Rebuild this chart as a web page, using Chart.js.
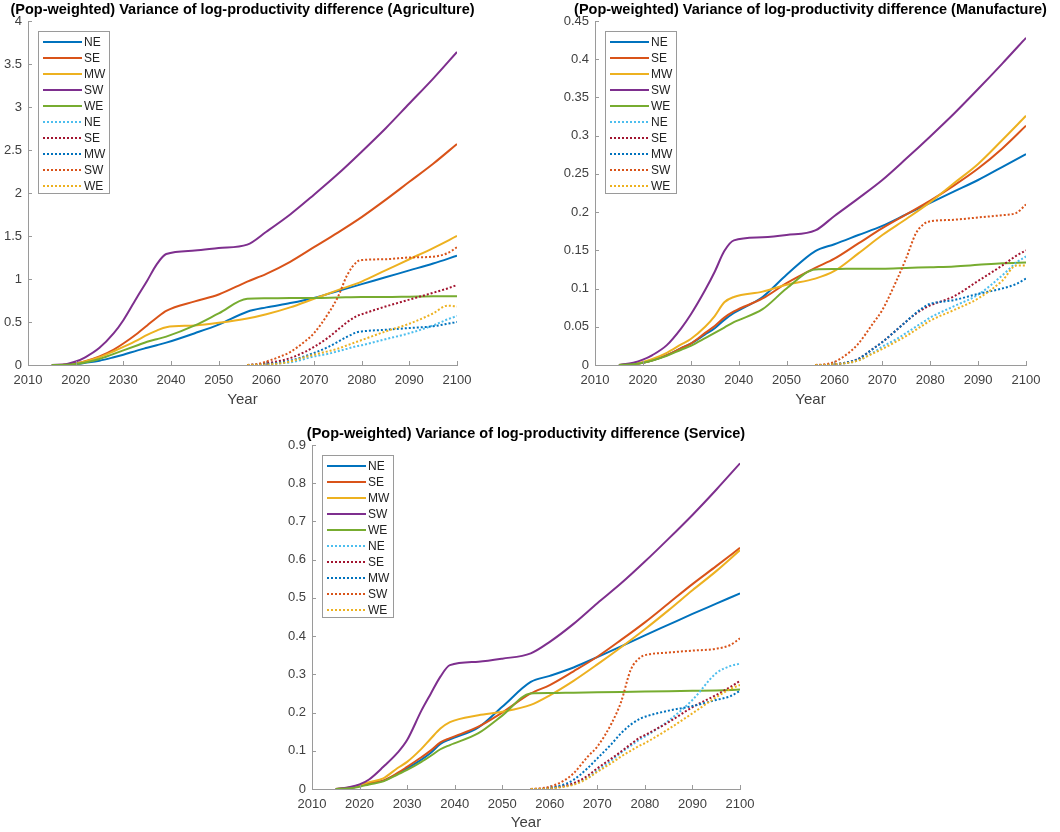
<!DOCTYPE html>
<html>
<head>
<meta charset="utf-8">
<title>Variance of log-productivity difference</title>
<script src="https://cdn.jsdelivr.net/npm/chart.js@4.4.0/dist/chart.umd.min.js"></script>
<style>
  html, body { margin: 0; padding: 0; background: #fff; }
  body { width: 1060px; height: 832px; position: relative; overflow: hidden; }
  .panel { position: absolute; }
</style>
</head>
<body>
<div class="panel" style="left:0;top:0;width:530px;height:420px"><canvas id="agri"></canvas></div>
<div class="panel" style="left:530px;top:0;width:530px;height:420px"><canvas id="manu"></canvas></div>
<div class="panel" style="left:260px;top:420px;width:530px;height:412px"><canvas id="serv"></canvas></div>
<script>
// regions, in legend order
const regions = ['NE', 'SE', 'MW', 'SW', 'WE'];

// x values: solid lines start 2015, dotted lines start 2056
const solidYears = [2015, 2018, 2020, 2022, 2025, 2028, 2030, 2033, 2035, 2037, 2039, 2045, 2050, 2056, 2060, 2065, 2070, 2075, 2080, 2085, 2090, 2095, 2100];
const dottedYears = [2056, 2058, 2060, 2063, 2065, 2068, 2070, 2073, 2075, 2077, 2079, 2080, 2085, 2090, 2095, 2098, 2100];

// tick labels
const xTicks = [2010, 2020, 2030, 2040, 2050, 2060, 2070, 2080, 2090, 2100];
const agriYTicks = [0, 0.5, 1, 1.5, 2, 2.5, 3, 3.5, 4];
const manuYTicks = [0, 0.05, 0.1, 0.15, 0.2, 0.25, 0.3, 0.35, 0.4, 0.45];
const servYTicks = [0, 0.1, 0.2, 0.3, 0.4, 0.5, 0.6, 0.7, 0.8, 0.9];

// Agriculture
const agriNE = [0, 0.003, 0.01, 0.025, 0.05, 0.09, 0.12, 0.17, 0.2, 0.23, 0.26, 0.37, 0.47, 0.62, 0.67, 0.72, 0.78, 0.86, 0.94, 1.02, 1.10, 1.18, 1.27];
const agriSE = [0, 0.005, 0.02, 0.045, 0.10, 0.18, 0.25, 0.37, 0.46, 0.55, 0.63, 0.74, 0.82, 0.97, 1.06, 1.20, 1.37, 1.54, 1.72, 1.92, 2.13, 2.34, 2.57];
const agriMW = [0, 0.004, 0.015, 0.04, 0.09, 0.16, 0.21, 0.29, 0.35, 0.40, 0.44, 0.46, 0.49, 0.54, 0.59, 0.67, 0.77, 0.87, 0.97, 1.10, 1.23, 1.36, 1.50];
const agriSW = [0, 0.01, 0.04, 0.09, 0.20, 0.37, 0.52, 0.80, 0.98, 1.17, 1.29, 1.33, 1.36, 1.40, 1.55, 1.75, 1.98, 2.22, 2.48, 2.75, 3.04, 3.33, 3.64];
const agriWE = [0, 0.003, 0.012, 0.03, 0.07, 0.13, 0.17, 0.23, 0.27, 0.30, 0.33, 0.46, 0.60, 0.77, 0.775, 0.78, 0.78, 0.785, 0.79, 0.79, 0.795, 0.80, 0.80];
const agriNEd = [0, 0.003, 0.01, 0.02, 0.03, 0.07, 0.10, 0.13, 0.16, 0.19, 0.22, 0.23, 0.30, 0.37, 0.46, 0.53, 0.57];
const agriSEd = [0, 0.005, 0.02, 0.05, 0.08, 0.15, 0.21, 0.32, 0.41, 0.50, 0.57, 0.59, 0.68, 0.76, 0.84, 0.89, 0.93];
const agriMWd = [0, 0.003, 0.01, 0.03, 0.05, 0.10, 0.14, 0.21, 0.27, 0.33, 0.38, 0.39, 0.41, 0.43, 0.45, 0.48, 0.50];
const agriSWd = [0, 0.01, 0.04, 0.10, 0.15, 0.27, 0.37, 0.60, 0.79, 1.05, 1.20, 1.22, 1.23, 1.25, 1.26, 1.30, 1.37];
const agriWEd = [0, 0.002, 0.005, 0.02, 0.04, 0.09, 0.12, 0.16, 0.19, 0.23, 0.27, 0.29, 0.39, 0.48, 0.60, 0.69, 0.68];

// Manufacture
const manuNE = [0, 0.001, 0.003, 0.006, 0.013, 0.022, 0.028, 0.040, 0.048, 0.059, 0.068, 0.089, 0.118, 0.149, 0.158, 0.170, 0.182, 0.197, 0.212, 0.227, 0.242, 0.259, 0.276];
const manuSE = [0, 0.001, 0.003, 0.006, 0.013, 0.022, 0.028, 0.042, 0.051, 0.062, 0.070, 0.087, 0.107, 0.127, 0.139, 0.159, 0.179, 0.197, 0.215, 0.235, 0.257, 0.283, 0.313];
const manuMW = [0, 0.001, 0.004, 0.008, 0.016, 0.027, 0.034, 0.050, 0.064, 0.082, 0.089, 0.096, 0.105, 0.113, 0.123, 0.146, 0.170, 0.191, 0.213, 0.238, 0.263, 0.294, 0.326];
const manuSW = [0, 0.003, 0.007, 0.013, 0.026, 0.048, 0.066, 0.098, 0.122, 0.149, 0.163, 0.167, 0.170, 0.176, 0.195, 0.218, 0.242, 0.270, 0.299, 0.329, 0.361, 0.394, 0.428];
const manuWE = [0, 0.001, 0.003, 0.006, 0.012, 0.020, 0.025, 0.035, 0.042, 0.049, 0.056, 0.073, 0.100, 0.125, 0.1255, 0.126, 0.126, 0.127, 0.128, 0.129, 0.131, 0.133, 0.134];
const manuNEd = [0, 0, 0.001, 0.003, 0.006, 0.016, 0.024, 0.034, 0.042, 0.050, 0.058, 0.062, 0.077, 0.092, 0.117, 0.134, 0.142];
const manuSEd = [0, 0, 0.001, 0.004, 0.008, 0.021, 0.030, 0.046, 0.057, 0.067, 0.075, 0.078, 0.090, 0.110, 0.130, 0.143, 0.150];
const manuMWd = [0, 0, 0.001, 0.004, 0.008, 0.021, 0.030, 0.046, 0.057, 0.068, 0.077, 0.080, 0.085, 0.093, 0.100, 0.106, 0.113];
const manuSWd = [0, 0.001, 0.004, 0.016, 0.028, 0.054, 0.072, 0.111, 0.140, 0.172, 0.186, 0.188, 0.190, 0.193, 0.196, 0.199, 0.210];
const manuWEd = [0, 0, 0.001, 0.003, 0.006, 0.015, 0.021, 0.031, 0.038, 0.046, 0.054, 0.058, 0.072, 0.087, 0.110, 0.130, 0.130];

// Service
const servNE = [0, 0.003, 0.008, 0.015, 0.022, 0.040, 0.054, 0.077, 0.095, 0.118, 0.130, 0.161, 0.215, 0.280, 0.296, 0.318, 0.345, 0.373, 0.402, 0.430, 0.458, 0.485, 0.512];
const servSE = [0, 0.003, 0.008, 0.015, 0.022, 0.042, 0.058, 0.083, 0.101, 0.122, 0.133, 0.163, 0.200, 0.250, 0.272, 0.308, 0.346, 0.390, 0.436, 0.486, 0.536, 0.583, 0.631];
const servMW = [0, 0.004, 0.010, 0.018, 0.028, 0.055, 0.071, 0.105, 0.132, 0.158, 0.175, 0.193, 0.202, 0.220, 0.245, 0.283, 0.326, 0.371, 0.418, 0.468, 0.520, 0.570, 0.625];
const servSW = [0, 0.005, 0.012, 0.025, 0.058, 0.095, 0.128, 0.205, 0.250, 0.294, 0.324, 0.333, 0.341, 0.355, 0.385, 0.432, 0.486, 0.538, 0.595, 0.655, 0.717, 0.783, 0.852];
const servWE = [0, 0.002, 0.006, 0.012, 0.020, 0.038, 0.050, 0.071, 0.087, 0.104, 0.115, 0.146, 0.192, 0.250, 0.251, 0.252, 0.253, 0.254, 0.255, 0.256, 0.257, 0.258, 0.260];
const servNEd = [0, 0, 0.002, 0.007, 0.013, 0.030, 0.048, 0.075, 0.095, 0.113, 0.130, 0.137, 0.179, 0.233, 0.303, 0.322, 0.328];
const servSEd = [0, 0, 0.002, 0.008, 0.015, 0.035, 0.054, 0.080, 0.098, 0.117, 0.135, 0.141, 0.175, 0.214, 0.246, 0.267, 0.283];
const servMWd = [0, 0, 0.003, 0.012, 0.024, 0.055, 0.080, 0.118, 0.146, 0.168, 0.184, 0.189, 0.205, 0.217, 0.233, 0.243, 0.257];
const servSWd = [0, 0.002, 0.006, 0.022, 0.041, 0.085, 0.111, 0.172, 0.228, 0.311, 0.344, 0.350, 0.357, 0.362, 0.367, 0.377, 0.394];
const servWEd = [0, 0, 0.001, 0.006, 0.011, 0.028, 0.045, 0.068, 0.085, 0.100, 0.114, 0.120, 0.157, 0.198, 0.240, 0.262, 0.272];

// MATLAB default colours
const solidColors = ['#0072BD', '#D95319', '#EDB120', '#7E2F8E', '#77AC30'];
const dottedColors = ['#4DBEEE', '#A2142F', '#0072BD', '#D95319', '#EDB120'];
const axisColor = '#9a9a9a';
const textColor = '#404040';
const fontFamily = '"Liberation Sans", Arial, Helvetica, sans-serif';

Chart.defaults.font.family = fontFamily;

function toPoints(xs, ys) {
    return xs.map((x, i) => ({ x: x, y: ys[i] }));
}

function buildDatasets(solid, dotted) {
    const sets = [];
    solid.forEach((vals, i) => sets.push({
        label: regions[i],
        data: toPoints(solidYears, vals),
        borderColor: solidColors[i],
        borderWidth: 2,
        borderDash: []
    }));
    dotted.forEach((vals, i) => sets.push({
        label: regions[i],
        data: toPoints(dottedYears, vals),
        borderColor: dottedColors[i],
        borderWidth: 2,
        borderDash: [2, 2]
    }));
    // later lines drawn on top, like MATLAB
    sets.forEach((s, i) => {
        s.order = sets.length - 1 - i;
        s.pointRadius = 0;
        s.fill = false;
        s.cubicInterpolationMode = 'monotone';
    });
    return sets;
}

// inward tick marks, title and boxed legend
const decorPlugin = {
    id: 'decor',
    afterDraw(chart, args, opts) {
        const { ctx, chartArea: a, scales: { x, y } } = chart;
        ctx.save();

        ctx.strokeStyle = axisColor;
        ctx.lineWidth = 1;
        ctx.beginPath();
        x.ticks.forEach(t => {
            const px = Math.round(x.getPixelForValue(t.value)) + 0.5;
            ctx.moveTo(px, a.bottom);
            ctx.lineTo(px, a.bottom - 4);
        });
        y.ticks.forEach(t => {
            const py = Math.round(y.getPixelForValue(t.value)) + 0.5;
            ctx.moveTo(a.left, py);
            ctx.lineTo(a.left + 4, py);
        });
        ctx.stroke();

        ctx.fillStyle = '#000';
        ctx.font = 'bold 14.5px ' + fontFamily;
        ctx.textAlign = 'center';
        ctx.textBaseline = 'middle';
        ctx.fillText(opts.title, (a.left + a.right) / 2, a.top - 11);

        // legend box
        const bx = a.left + 10, by = a.top + 10, bw = 71, bh = 162;
        ctx.fillStyle = '#fff';
        ctx.fillRect(bx, by, bw, bh);
        ctx.strokeStyle = axisColor;
        ctx.strokeRect(bx + 0.5, by + 0.5, bw, bh);
        ctx.font = '12px ' + fontFamily;
        ctx.textAlign = 'left';
        chart.data.datasets.forEach((ds, i) => {
            const ly = by + 11 + i * 16;
            ctx.strokeStyle = ds.borderColor;
            ctx.lineWidth = 2;
            ctx.setLineDash(ds.borderDash);
            ctx.beginPath();
            ctx.moveTo(bx + 5, ly);
            ctx.lineTo(bx + 44, ly);
            ctx.stroke();
            ctx.setLineDash([]);
            ctx.fillStyle = '#222';
            ctx.fillText(ds.label, bx + 46, ly + 1);
        });
        ctx.restore();
    }
};

function makeChart(id, cfg) {
    return new Chart(document.getElementById(id), {
        type: 'line',
        data: { datasets: buildDatasets(cfg.solid, cfg.dotted) },
        options: {
            responsive: true,
            maintainAspectRatio: false,
            animation: false,
            layout: { padding: { left: 0, top: cfg.padTop, right: cfg.padRight, bottom: 0 } },
            plugins: {
                legend: { display: false },
                tooltip: { enabled: false },
                decor: { title: cfg.title }
            },
            scales: {
                x: {
                    type: 'linear',
                    min: 2010,
                    max: 2100,
                    afterBuildTicks: s => { s.ticks = xTicks.map(v => ({ value: v })); },
                    afterFit: s => { s.height = cfg.xHeight; },
                    grid: { display: false, drawTicks: false },
                    border: { color: axisColor, width: 1 },
                    ticks: {
                        color: textColor,
                        font: { size: 13 },
                        padding: 8,
                        maxRotation: 0,
                        autoSkip: false,
                        callback: v => String(v)
                    },
                    title: {
                        display: true,
                        text: 'Year',
                        color: textColor,
                        font: { size: 15 },
                        padding: { top: 0, bottom: cfg.titlePad }
                    }
                },
                y: {
                    type: 'linear',
                    min: 0,
                    max: cfg.yTicks[cfg.yTicks.length - 1],
                    afterBuildTicks: s => { s.ticks = cfg.yTicks.map(v => ({ value: v })); },
                    afterFit: s => { s.width = cfg.yWidth; },
                    grid: { display: false, drawTicks: false },
                    border: { color: axisColor, width: 1 },
                    ticks: {
                        color: textColor,
                        font: { size: 13 },
                        padding: 6,
                        autoSkip: false,
                        callback: v => String(v)
                    }
                }
            }
        },
        plugins: [decorPlugin]
    });
}

makeChart('agri', {
    title: '(Pop-weighted) Variance of log-productivity difference (Agriculture)',
    solid: [agriNE, agriSE, agriMW, agriSW, agriWE],
    dotted: [agriNEd, agriSEd, agriMWd, agriSWd, agriWEd],
    yTicks: agriYTicks,
    padTop: 21, padRight: 73, yWidth: 28, xHeight: 55, titlePad: 11
});

makeChart('manu', {
    title: '(Pop-weighted) Variance of log-productivity difference (Manufacture)',
    solid: [manuNE, manuSE, manuMW, manuSW, manuWE],
    dotted: [manuNEd, manuSEd, manuMWd, manuSWd, manuWEd],
    yTicks: manuYTicks,
    padTop: 21, padRight: 34, yWidth: 65, xHeight: 55, titlePad: 11
});

makeChart('serv', {
    title: '(Pop-weighted) Variance of log-productivity difference (Service)',
    solid: [servNE, servSE, servMW, servSW, servWE],
    dotted: [servNEd, servSEd, servMWd, servSWd, servWEd],
    yTicks: servYTicks,
    padTop: 25, padRight: 50, yWidth: 52, xHeight: 43, titlePad: 0
});
</script>
</body>
</html>
